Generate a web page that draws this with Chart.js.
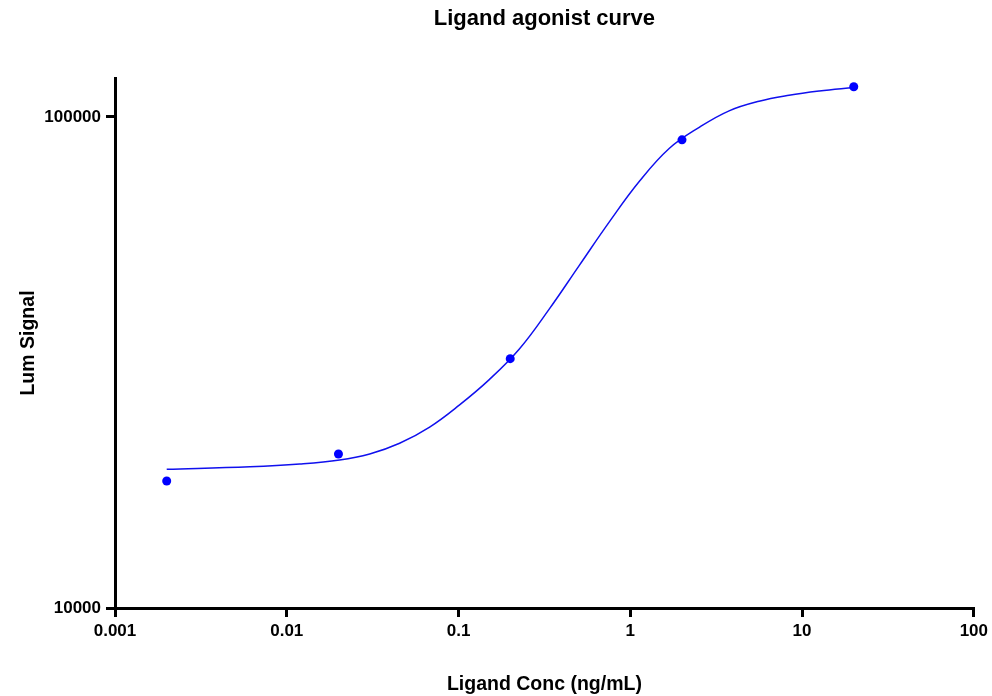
<!DOCTYPE html>
<html>
<head>
<meta charset="utf-8">
<title>Ligand agonist curve</title>
<script src="https://cdn.jsdelivr.net/npm/chart.js@4.4.1/dist/chart.umd.min.js"></script>
<style>
	html, body { margin: 0; padding: 0; background: #fff; }
	#wrap { width: 992px; height: 696px; }
</style>
</head>
<body>
<div id="wrap"><canvas id="my-chart"></canvas></div>
<script>
// DATA
let doseConc = [0.002, 0.02, 0.2, 2, 20];
let doseSignal = [18140, 20590, 32190, 89800, 115150];

// FITTED CURVE
let curveConc = [0.002, 0.0061, 0.0119, 0.0203, 0.0304, 0.0454, 0.0679, 0.101, 0.151, 0.226, 0.338, 0.505, 0.755, 1.13, 1.69, 2.52, 3.76, 5.62, 8.4, 12.6, 20];
let curveSignal = [19160, 19390, 19640, 20010, 20590, 21650, 23360, 25890, 29180, 33680, 40650, 49850, 61120, 73930, 86300, 95220, 102880, 107620, 110680, 112890, 114780];

// AXIS TICKS
let xTicks = [0.001, 0.01, 0.1, 1, 10, 100];
let xTickLabels = ['0.001', '0.01', '0.1', '1', '10', '100'];
let yTicks = [10000, 100000];
let yTickLabels = ['10000', '100000'];

const FONT = '"Liberation Sans", Arial, Helvetica, sans-serif';

function toXY(xs, ys) {
	return xs.map((x, i) => ({ x: x, y: ys[i] }));
}

const ctx = document.getElementById('my-chart');
new Chart(ctx, {
	type: 'scatter',
	data: {
		datasets: [{
			label: 'Fit',
			data: toXY(curveConc, curveSignal),
			showLine: true,
			borderColor: '#1010ee',
			borderWidth: 1.5,
			pointRadius: 0,
			tension: 0.4,
			order: 2
		},
		{
			label: 'Data',
			data: toXY(doseConc, doseSignal),
			showLine: false,
			backgroundColor: '#0000ff',
			borderColor: '#0000ff',
			pointRadius: 4.5,
			pointBorderWidth: 0,
			order: 1
		}]
	},
	options: {
		responsive: true,
		maintainAspectRatio: false,
		animation: false,
		layout: {
			padding: { left: 0, right: 17, top: 0, bottom: 0 }
		},
		plugins: {
			legend: { display: false },
			tooltip: { enabled: false },
			title: {
				display: true,
				text: 'Ligand agonist curve',
				fullSize: false,
				color: '#000',
				font: { family: FONT, size: 22, weight: 'bold' },
				padding: { top: 6, bottom: 45.6 }
			}
		},
		scales: {
			x: {
				type: 'logarithmic',
				min: 0.001,
				max: 100,
				afterBuildTicks: (scale) => { scale.ticks = xTicks.map(v => ({ value: v })); },
				afterFit: (scale) => { scale.height = 88; },
				border: { display: true, color: '#000', width: 3 },
				grid: { drawOnChartArea: false, drawTicks: true, tickLength: 9, color: '#000', lineWidth: 3 },
				ticks: {
					color: '#000',
					padding: 4,
					maxRotation: 0,
					autoSkip: false,
					font: { family: FONT, size: 17, weight: 'bold' },
					callback: (value, index) => xTickLabels[index]
				},
				title: {
					display: true,
					text: 'Ligand Conc (ng/mL)',
					color: '#000',
					font: { family: FONT, size: 19.5, weight: 'bold' },
					padding: { top: 0, bottom: 0 }
				}
			},
			y: {
				type: 'logarithmic',
				min: 10000,
				max: 120000,
				afterBuildTicks: (scale) => { scale.ticks = yTicks.map(v => ({ value: v })); },
				afterFit: (scale) => { scale.width = 115; },
				border: { display: true, color: '#000', width: 3 },
				grid: { drawOnChartArea: false, drawTicks: true, tickLength: 9, color: '#000', lineWidth: 3 },
				ticks: {
					color: '#000',
					padding: 5,
					autoSkip: false,
					font: { family: FONT, size: 17, weight: 'bold' },
					callback: (value, index) => yTickLabels[index]
				},
				title: {
					display: true,
					text: 'Lum Signal',
					color: '#000',
					font: { family: FONT, size: 19.5, weight: 'bold' },
					padding: { top: 17, bottom: 0 }
				}
			}
		}
	}
});
</script>
</body>
</html>
